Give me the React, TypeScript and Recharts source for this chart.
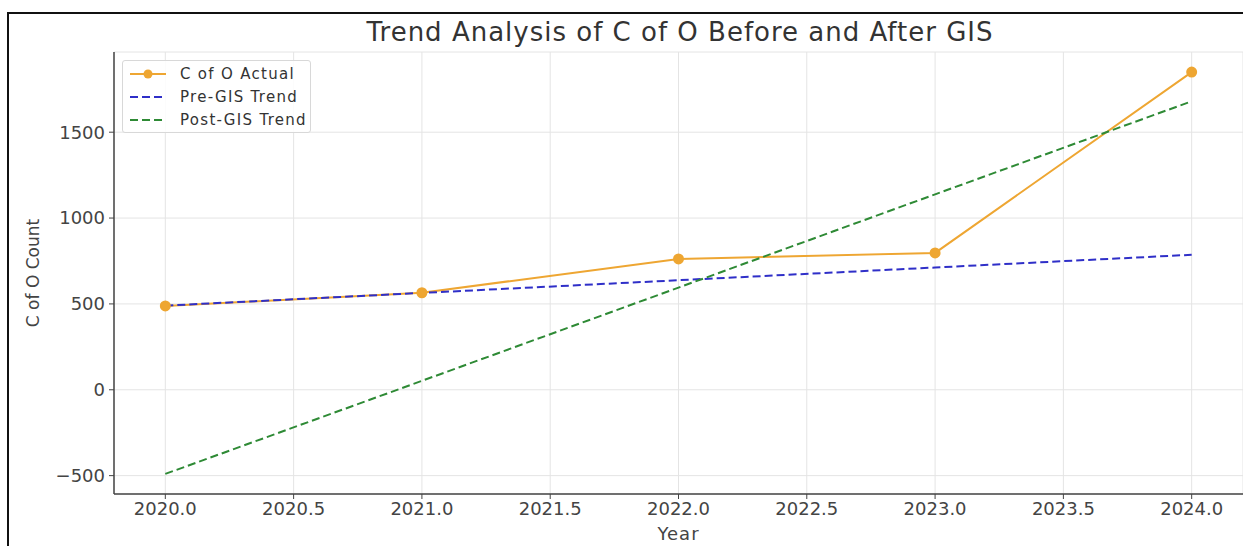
import React from 'react';
import { LineChart, Line, XAxis, YAxis, CartesianGrid } from 'recharts';

// Values
const years = [2020, 2021, 2022, 2023, 2024];
const actualCounts = [488, 565, 762, 797, 1850];
const preGisTrend = [490, 564, 638, 712, 786];
const postGisTrend = [-490, 52, 595, 1138, 1680];

const xTicks = [2020, 2020.5, 2021, 2021.5, 2022, 2022.5, 2023, 2023.5, 2024];
const yTicks = [-500, 0, 500, 1000, 1500];

const series = [
    { key: 'actual', name: 'C of O Actual', color: '#eea632', dashed: false },
    { key: 'pre', name: 'Pre-GIS Trend', color: '#2f2fc8', dashed: true },
    { key: 'post', name: 'Post-GIS Trend', color: '#2e8a35', dashed: true },
];

const data = years.map((year, i) => ({
    year,
    actual: actualCounts[i],
    pre: preGisTrend[i],
    post: postGisTrend[i],
}));

const FONT = '"DejaVu Sans", sans-serif';
const AXIS_COLOR = '#444';

// legend drawn as an overlay so it doesn't push the plot area around
const LegendBox = () => (
    <div
        style={{
            position: 'absolute',
            left: 122,
            top: 60,
            width: 189,
            height: 73,
            boxSizing: 'border-box',
            border: '1px solid #d8d8d8',
            borderRadius: 3,
            background: 'rgba(255,255,255,0.85)',
            padding: '1px 0 0 6px',
            fontFamily: FONT,
            fontSize: 15,
            letterSpacing: 1.3,
            color: '#333',
        }}
    >
        {series.map(s => (
            <div key={s.key} style={{ display: 'flex', alignItems: 'center', height: 23 }}>
                <svg width={38} height={12} style={{ marginRight: 13 }}>
                    <line
                        x1={1}
                        y1={6}
                        x2={37}
                        y2={6}
                        stroke={s.color}
                        strokeWidth={2}
                        strokeDasharray={s.dashed ? '8 4' : undefined}
                    />
                    {!s.dashed && <circle cx={19} cy={6} r={4.5} fill={s.color} />}
                </svg>
                <span>{s.name}</span>
            </div>
        ))}
    </div>
);

const App: React.FC = () => {
    return (
        <div style={{ position: 'absolute', left: 0, top: 0, width: 1243, height: 546, background: '#fff', overflow: 'hidden' }}>
            {/* screenshot frame */}
            <div
                style={{
                    position: 'absolute',
                    left: 7,
                    top: 12,
                    width: 1300,
                    height: 600,
                    borderLeft: '2px solid #111',
                    borderTop: '2px solid #111',
                }}
            />
            <div
                style={{
                    position: 'absolute',
                    left: 0,
                    top: 17,
                    width: 1360,
                    textAlign: 'center',
                    fontFamily: FONT,
                    fontSize: 26,
                    letterSpacing: 1,
                    color: '#333',
                    whiteSpace: 'nowrap',
                }}
            >
                Trend Analysis of C of O Before and After GIS
            </div>
            <div style={{ position: 'absolute', left: 0, top: 0 }}>
                <LineChart width={1243} height={546} data={data} margin={{ top: 52, right: 0, bottom: 0, left: 54 }}>
                    <CartesianGrid stroke="#e4e4e4" strokeWidth={1} />
                    <XAxis
                        dataKey="year"
                        type="number"
                        domain={[2019.8, 2024.2]}
                        ticks={xTicks}
                        allowDataOverflow
                        tickFormatter={(v: number) => v.toFixed(1)}
                        height={52}
                        tickSize={5}
                        tickMargin={3}
                        axisLine={{ stroke: AXIS_COLOR, strokeWidth: 1.5 }}
                        tickLine={{ stroke: AXIS_COLOR }}
                        tick={{ fill: '#444', fontSize: 18, fontFamily: FONT }}
                        label={{ value: 'Year', position: 'insideBottom', offset: 6, fill: '#444', fontSize: 18, fontFamily: FONT, letterSpacing: 1 }}
                    />
                    <YAxis
                        type="number"
                        domain={[-607, 1967]}
                        ticks={yTicks}
                        allowDataOverflow
                        tickFormatter={(v: number) => (v < 0 ? '\u2212' + Math.abs(v) : String(v))}
                        width={60}
                        tickSize={5}
                        tickMargin={4}
                        axisLine={{ stroke: AXIS_COLOR, strokeWidth: 1.5 }}
                        tickLine={{ stroke: AXIS_COLOR }}
                        tick={{ fill: '#444', fontSize: 18, fontFamily: FONT }}
                        label={{ value: 'C of O Count', angle: -90, position: 'insideLeft', offset: -21, fill: '#444', fontSize: 17, fontFamily: FONT, style: { textAnchor: 'middle' } }}
                    />
                    <Line
                        dataKey="actual"
                        name="C of O Actual"
                        stroke={series[0].color}
                        strokeWidth={2}
                        dot={{ r: 4.5, fill: series[0].color, stroke: series[0].color }}
                        isAnimationActive={false}
                    />
                    <Line
                        dataKey="pre"
                        name="Pre-GIS Trend"
                        stroke={series[1].color}
                        strokeWidth={2}
                        strokeDasharray="8 4"
                        dot={false}
                        isAnimationActive={false}
                    />
                    <Line
                        dataKey="post"
                        name="Post-GIS Trend"
                        stroke={series[2].color}
                        strokeWidth={2}
                        strokeDasharray="8 4"
                        dot={false}
                        isAnimationActive={false}
                    />
                </LineChart>
            </div>
            <LegendBox />
        </div>
    );
};

export default App;
